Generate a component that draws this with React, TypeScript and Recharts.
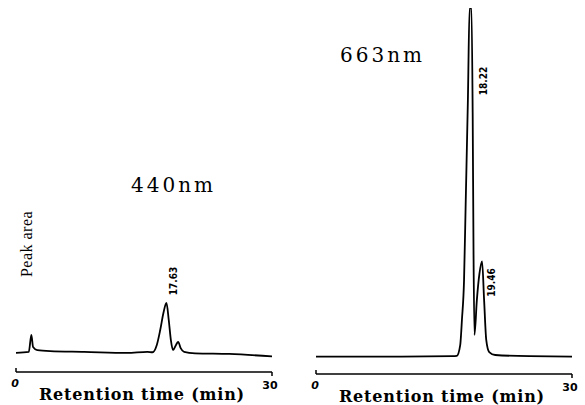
import React from 'react';
import { LineChart, Line, XAxis, YAxis, ReferenceDot } from 'recharts';

// retention time (min) and detector response, 440 nm channel
const time440 = [0, 1.5, 1.8, 2.0, 2.5, 4, 8, 13, 15.4, 16.0, 16.5, 16.9, 17.3, 17.63, 17.9, 18.15, 18.4, 18.75, 19.0, 19.3, 19.7, 21, 25, 30];
const signal440 = [0.5, 0.8, 5.7, 2.2, 1.3, 1.0, 0.8, 0.5, 0.8, 0.7, 2.8, 7.1, 12.3, 14.9, 10.0, 4.2, 1.3, 2.8, 3.7, 1.9, 0.8, 0.4, 0.2, -0.5];

// 663 nm channel (main peak saturates the detector, flat top)
const time663 = [0, 10, 16.0, 16.5, 16.9, 17.1, 17.35, 17.55, 17.8, 18.0, 18.22, 18.36, 18.46, 18.57, 18.85, 19.15, 19.46, 19.7, 19.95, 20.3, 21, 25, 30];
const signal663 = [0, 0, 0.1, 0.2, 3.3, 10.5, 22, 45, 73.6, 100, 100, 70, 30, 6.2, 16.2, 23.7, 27.3, 16.2, 4.8, 1.3, 0.45, 0.1, 0];

const peaks440 = [{ t: 17.63, label: '17.63', dx: 7, dy: -22 }];
const peaks663 = [
  { t: 18.22, label: '18.22', dx: 12, dy: 73 },
  { t: 19.46, label: '19.46', dx: 9, dy: 21 },
];

const xTicks = [0, 30];

const rows440 = time440.map((t, i) => ({ t, v: signal440[i] }));
const rows663 = time663.map((t, i) => ({ t, v: signal663[i] }));

const valueAt = (rows: { t: number; v: number }[], t: number) =>
  rows.find((r) => r.t === t)?.v ?? 0;

const TimeTick = (props: any) => {
  const { x, y, payload } = props;
  const start = payload.value === 0;
  return (
    <g>
      <line x1={x} y1={y} x2={x} y2={start ? y - 4 : y + 4} stroke="#000" strokeWidth={1.5} />
      <text
        x={start ? x - 1 : x - 2}
        y={start ? y + 15 : y + 17}
        textAnchor="middle"
        fontFamily="DejaVu Sans"
        fontWeight="bold"
        fontStyle={start ? 'italic' : 'normal'}
        fontSize={11}
        fill="#000"
      >
        {payload.value}
      </text>
    </g>
  );
};

const AxisTitle = (props: any) => {
  const { x, y, width } = props.viewBox;
  return (
    <text
      x={x + width / 2 - 2}
      y={y + 28}
      textAnchor="middle"
      fontFamily="DejaVu Serif"
      fontWeight="bold"
      fontSize={16}
      letterSpacing={0.8}
      fill="#000"
    >
      Retention time (min)
    </text>
  );
};

const peakLabel = (text: string, dx: number, dy: number) => (props: any) => {
  const { x, y } = props.viewBox;
  const cx = x + dx;
  const cy = y + dy;
  return (
    <text
      x={cx}
      y={cy}
      transform={`rotate(-90 ${cx} ${cy})`}
      textAnchor="middle"
      dominantBaseline="central"
      fontFamily="DejaVu Sans Condensed, DejaVu Sans"
      fontWeight="bold"
      fontSize={10}
      fill="#000"
    >
      {text}
    </text>
  );
};

const Trace = ({
  rows,
  peaks,
  width,
  margin,
}: {
  rows: { t: number; v: number }[];
  peaks: { t: number; label: string; dx: number; dy: number }[];
  width: number;
  margin: { top: number; right: number; bottom: number; left: number };
}) => (
  <LineChart width={width} height={405} data={rows} margin={margin}>
    <XAxis
      dataKey="t"
      type="number"
      domain={[0, 30]}
      ticks={xTicks}
      height={30}
      tickSize={0}
      tickMargin={0}
      tickLine={false}
      tick={<TimeTick />}
      axisLine={{ stroke: '#000', strokeWidth: 1.5 }}
      label={<AxisTitle />}
    />
    <YAxis hide domain={[-5, 100]} allowDataOverflow />
    <Line
      dataKey="v"
      type="monotone"
      stroke="#000"
      strokeWidth={1.8}
      dot={false}
      isAnimationActive={false}
    />
    {peaks.map((p) => (
      <ReferenceDot
        key={p.label}
        x={p.t}
        y={valueAt(rows, p.t)}
        r={0}
        fill="none"
        stroke="none"
        label={peakLabel(p.label, p.dx, p.dy)}
      />
    ))}
  </LineChart>
);

const titleStyle: React.CSSProperties = {
  position: 'absolute',
  fontFamily: 'DejaVu Serif',
  fontSize: 20,
  letterSpacing: 3,
  lineHeight: '20px',
  color: '#000',
};

export default function App() {
  return (
    <div style={{ position: 'absolute', left: 0, top: 0, width: 585, height: 405, background: '#fff', overflow: 'hidden' }}>
      <div style={{ position: 'absolute', left: 0, top: 0 }}>
        <Trace rows={rows440} peaks={peaks440} width={290} margin={{ top: 8, right: 18, bottom: 3, left: 16 }} />
      </div>
      <div style={{ position: 'absolute', left: 290, top: 0 }}>
        <Trace rows={rows663} peaks={peaks663} width={295} margin={{ top: 8, right: 13, bottom: 1, left: 26 }} />
      </div>
      <div style={{ ...titleStyle, left: 131, top: 175 }}>440nm</div>
      <div style={{ ...titleStyle, left: 340, top: 45 }}>663nm</div>
      <div
        style={{
          position: 'absolute',
          left: 27,
          top: 244,
          transform: 'translate(-50%, -50%) rotate(-90deg)',
          fontFamily: '"Liberation Serif", "DejaVu Serif", serif',
          fontSize: 16,
          letterSpacing: 0.5,
          whiteSpace: 'nowrap',
          color: '#000',
        }}
      >
        Peak area
      </div>
    </div>
  );
}
